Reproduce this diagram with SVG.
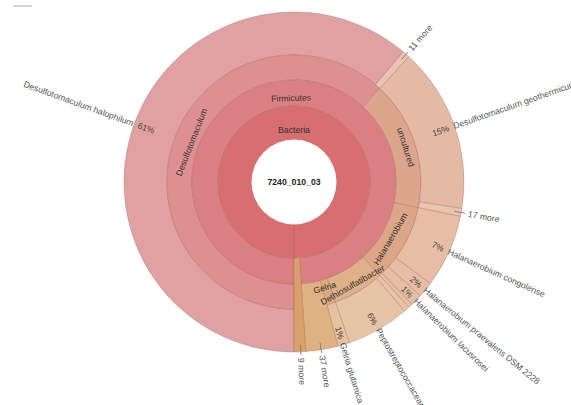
<svg xmlns="http://www.w3.org/2000/svg" width="571" height="405" viewBox="0 0 571 405">
<style>
.w{stroke:#9c5a50;stroke-opacity:0.4;stroke-width:0.8}
.b{fill:#d76e70}.f{fill:#da8082}.dg{fill:#dd8f91}.dh{fill:#e0a1a2}
.unc{fill:#dca68c}.geo{fill:#e5baa5}.m11{fill:#e8c5b2}
.hal{fill:#dca786}.sp{fill:#e6bea4}.det{fill:#deb189}.pep{fill:#e8c4a6}
.gel{fill:#dcab80}.glu{fill:#e7c2a1}.m37{fill:#dfb282}.m9{fill:#d8a16a}
text{font-family:"Liberation Sans",Arial,sans-serif;font-size:8.7px}
.lbl{fill:#555}.pct{fill:#444}.ring{fill:#333}
.tick{stroke:#777;stroke-width:0.8}
</style>
<line x1="13" y1="6" x2="32" y2="6" stroke="#aaa" stroke-width="1"/>
<g id="n-desulfotomaculum-halophilum">
<path class="w dh" d="M294,352 A170,170 0 1 1 403.27,51.77 L375.63,84.71 A127,127 0 1 0 294,309 Z"/>
<g transform="translate(294,182) rotate(20)"><text class="lbl" x="-171" y="3" text-anchor="end">Desulfotomaculum halophilum</text><text class="pct" x="-166" y="3">61%</text></g>
</g>
<g id="n-desulfotomaculum-more">
<path class="w m11" d="M403.27,51.77 A170,170 0 0 1 408.85,56.66 L379.80,88.37 A127,127 0 0 0 375.63,84.71 Z"/>
<text class="lbl" transform="translate(294,182) rotate(-48.75)" x="176" y="3">11 more</text>
</g>
<g id="n-desulfotomaculum">
<path class="w dg" d="M294,309 A127,127 0 1 1 379.80,88.37 L362.91,106.80 A102,102 0 1 0 294,284 Z"/>
<text class="ring" transform="translate(191.5,142.1) rotate(-68.75)" text-anchor="middle" dominant-baseline="central">Desulfotomaculum</text>
</g>
<g id="n-uncultured">
<path class="w unc" d="M379.80,88.37 A127,127 0 0 1 418.36,207.75 L393.88,202.68 A102,102 0 0 0 362.91,106.80 Z"/>
<text class="ring" transform="translate(405.7,147.2) rotate(72.7)" text-anchor="middle" dominant-baseline="central">uncultured</text>
</g>
<g id="n-desulfotomaculum-geothermicum">
<path class="w geo" d="M408.85,56.66 A170,170 0 0 1 461.91,208.59 L419.44,201.87 A127,127 0 0 0 379.80,88.37 Z"/>
<g transform="translate(294,182) rotate(-19.25)"><text class="pct" x="164" y="3" text-anchor="end">15%</text><text class="lbl" x="169" y="3">Desulfotomaculum geothermicum</text></g>
</g>
<g id="n-uncultured-more">
<path class="w m11" d="M461.91,208.59 A170,170 0 0 1 460.47,216.47 L418.36,207.75 A127,127 0 0 0 419.44,201.87 Z"/>
<text class="lbl" transform="translate(294,182) rotate(10.35)" x="177" y="3">17 more</text>
</g>
<g id="n-halanaerobium">
<path class="w hal" d="M418.36,207.75 A127,127 0 0 1 379.80,275.63 L362.91,257.20 A102,102 0 0 0 393.88,202.68 Z"/>
<text class="ring" transform="translate(390.5,238.8) rotate(-59.5)" text-anchor="middle" dominant-baseline="central">Halanaerobium</text>
</g>
<g id="n-halanaerobium-congolense">
<path class="w sp" d="M460.47,216.47 A170,170 0 0 1 430.30,283.60 L395.83,257.90 A127,127 0 0 0 418.36,207.75 Z"/>
<g transform="translate(294,182) rotate(24.2)"><text class="pct" x="164" y="3" text-anchor="end">7%</text><text class="lbl" x="169" y="3">Halanaerobium congolense</text></g>
</g>
<g id="n-halanaerobium-praevalens">
<path class="w sp" d="M430.30,283.60 A170,170 0 0 1 420.33,295.75 L388.38,266.98 A127,127 0 0 0 395.83,257.90 Z"/>
<g transform="translate(294,182) rotate(39.35)"><text class="pct" x="164" y="3" text-anchor="end">2%</text><text class="lbl" x="169" y="3">Halanaerobium praevalens DSM 2228</text></g>
</g>
<g id="n-halanaerobium-lacusrosei">
<path class="w sp" d="M420.33,295.75 A170,170 0 0 1 412.09,304.29 L382.22,273.36 A127,127 0 0 0 388.38,266.98 Z"/>
<g transform="translate(294,182) rotate(44.2)"><text class="pct" x="164" y="3" text-anchor="end">1%</text><text class="lbl" x="169" y="3">Halanaerobium lacusrosei</text></g>
</g>
<g id="n-halanaerobium-rest">
<path class="w sp" d="M412.09,304.29 A170,170 0 0 1 408.85,307.34 L379.80,275.63 A127,127 0 0 0 382.22,273.36 Z"/>
</g>
<g id="n-peptostreptococcaceae">
<path class="w pep" d="M408.85,307.34 A170,170 0 0 1 404.63,311.08 L376.65,278.43 A127,127 0 0 0 379.80,275.63 Z"/>
<path class="w pep" d="M404.63,311.08 A170,170 0 0 1 349.35,342.74 L335.35,302.08 A127,127 0 0 0 376.65,278.43 Z"/>
<g transform="translate(294,182) rotate(60.2)"><text class="pct" x="164" y="3" text-anchor="end">6%</text><text class="lbl" x="169" y="3">Peptostreptococcaceae</text></g>
</g>
<g id="n-gelria-glutamica">
<path class="w glu" d="M349.35,342.74 A170,170 0 0 1 338.00,346.21 L326.87,304.67 A127,127 0 0 0 335.35,302.08 Z"/>
<g transform="translate(294,182) rotate(73.2)"><text class="pct" x="164" y="3" text-anchor="end">1%</text><text class="lbl" x="168" y="3">Gelria glutamica</text></g>
</g>
<g id="n-firmicutes-more">
<path class="w m37" d="M338.00,346.21 A170,170 0 0 1 305.86,351.59 L301.12,283.75 A102,102 0 0 0 320.40,280.52 Z"/>
<text class="lbl" transform="translate(294,182) rotate(80.8)" x="176" y="3">37 more</text>
</g>
<g id="n-firmicutes">
<path class="w f" d="M294,284 A102,102 0 1 1 301.12,283.75 L299.30,257.82 A76,76 0 1 0 294,258 Z"/>
<text class="ring" transform="translate(291.07,98.05) rotate(-2)" text-anchor="middle" dominant-baseline="central">Firmicutes</text>
</g>
<g id="n-bacteria-more">
<path class="w m9" d="M305.86,351.59 A170,170 0 0 1 294,352 L294,258 A76,76 0 0 0 299.30,257.82 Z"/>
<text class="lbl" transform="translate(294,182) rotate(87.7)" x="176" y="3">9 more</text>
</g>
<g id="n-bacteria">
<circle class="w b" cx="294" cy="182" r="76"/>
<line class="w" x1="294" y1="224.5" x2="294" y2="258"/>
<text class="ring" x="294" y="130" text-anchor="middle" dominant-baseline="central">Bacteria</text>
</g>
<g id="n-root">
<circle cx="294" cy="182" r="42.5" fill="#fff"/>
<text x="294" y="182" text-anchor="middle" dominant-baseline="central" font-weight="bold" fill="#222">7240_010_03</text>
</g>
<g id="n-dethiosulfatibacter">
<path class="w det" d="M379.80,275.63 A127,127 0 0 1 335.35,302.08 L327.21,278.44 A102,102 0 0 0 362.91,257.20 Z"/>
</g>
<g id="n-gelria">
<path class="w gel" d="M335.35,302.08 A127,127 0 0 1 326.87,304.67 L320.40,280.52 A102,102 0 0 0 327.21,278.44 Z"/>
</g>
<g id="genus-labels">
<text class="ring" transform="translate(352.5,285) rotate(-29.6)" text-anchor="middle" dominant-baseline="central">Dethiosulfatibacter</text>
<text class="ring" transform="translate(324.7,287.6) rotate(-16.2)" text-anchor="middle" dominant-baseline="central">Gelria</text>
</g>
<g id="connectors">
<line class="tick" transform="translate(294,182) rotate(-48.75)" x1="163" y1="0" x2="173" y2="0"/>
<line class="tick" transform="translate(294,182) rotate(10.35)" x1="163" y1="0" x2="174" y2="0"/>
<line class="tick" transform="translate(294,182) rotate(80.8)" x1="163" y1="0" x2="173" y2="0"/>
<line class="tick" transform="translate(294,182) rotate(87.7)" x1="163" y1="0" x2="173" y2="0"/>
</g>
</svg>
